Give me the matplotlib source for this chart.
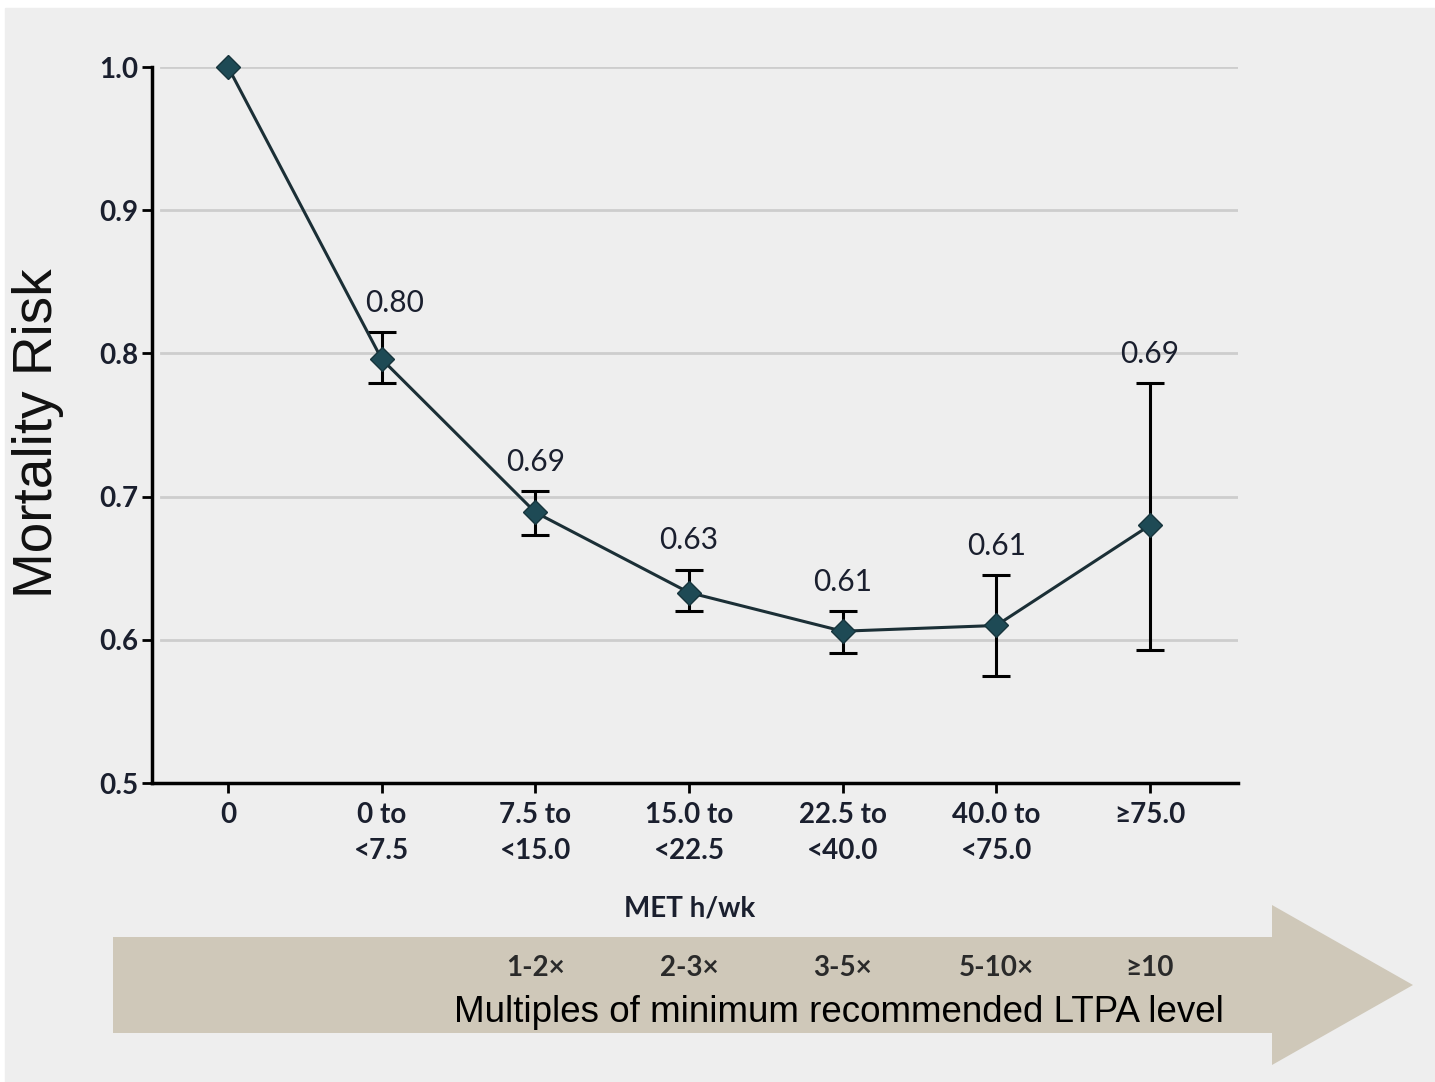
import matplotlib.pyplot as plt
from matplotlib.patches import Polygon, Rectangle
from matplotlib.transforms import blended_transform_factory

# data
categories = ["0", "0 to\n<7.5", "7.5 to\n<15.0", "15.0 to\n<22.5",
              "22.5 to\n<40.0", "40.0 to\n<75.0", "\u226575.0"]
risk = [1.0, 0.796, 0.689, 0.633, 0.606, 0.610, 0.680]
lower = [1.0, 0.779, 0.673, 0.620, 0.591, 0.575, 0.593]
upper = [1.0, 0.815, 0.704, 0.649, 0.620, 0.645, 0.779]
value_labels = ["", "0.80", "0.69", "0.63", "0.61", "0.61", "0.69"]
multiples = ["", "", "1-2\u00d7", "2-3\u00d7", "3-5\u00d7", "5-10\u00d7", "\u226510"]
yticks = [0.5, 0.6, 0.7, 0.8, 0.9, 1.0]

W, H = 1435, 1082
bg = "#eeeeee"
fam = ["Lato", "DejaVu Sans"]


def px(x, y):
    return x / W, 1 - y / H


fig = plt.figure(figsize=(W / 100, H / 100), dpi=100)
fig.patch.set_facecolor("white")
fig.patches.append(Rectangle(px(5, 1082), 1 - 5 / W, 1 - 8 / H,
                             transform=fig.transFigure, color=bg, zorder=-2))

# beige arrow at the bottom
arrow_pts = [px(113, 937), px(1272, 937), px(1272, 905), px(1413, 985),
             px(1272, 1065), px(1272, 1033), px(113, 1033)]
fig.patches.append(Polygon(arrow_pts, closed=True, transform=fig.transFigure,
                           facecolor="#cfc8b9", edgecolor="none", zorder=-1))

l, b = px(152, 783)
r, t = px(1238, 67)
ax = fig.add_axes([l, b, r - l, t - b])
ax.set_facecolor(bg)

x = list(range(len(categories)))
yerr = [[r_ - lo for r_, lo in zip(risk, lower)],
        [up - r_ for r_, up in zip(risk, upper)]]

ax.plot(x, risk, color="#1b2f36", lw=2.2, zorder=3, clip_on=False)
ax.errorbar(x[1:], risk[1:], yerr=[yerr[0][1:], yerr[1][1:]], fmt="none",
            ecolor="black", elinewidth=2.2, capsize=10, capthick=2.2, zorder=2)
ax.plot(x, risk, ls="none", marker="D", ms=12, mfc="#1e4a55", mec="#16343c",
        mew=1, zorder=4, clip_on=False)

for i, lab in enumerate(value_labels):
    if not lab:
        continue
    dx = 9 if i == 1 else 0
    ax.annotate(lab, (x[i], upper[i]), xytext=(dx, 21), textcoords="offset points",
                ha="center", va="center", fontsize=21.5, color="#1a1f2e", family=fam)

ax.set_xlim(-0.495, 6.573)
ax.set_ylim(0.5, 1.0)
ax.set_yticks(yticks)
ax.set_yticklabels([f"{v:.1f}" for v in yticks])
ax.set_xticks(x)
ax.set_xticklabels(categories, linespacing=1.45)
ax.tick_params(axis="both", direction="out", length=7, width=2, colors="black",
               labelsize=20)
ax.tick_params(axis="x", pad=7)
ax.tick_params(axis="y", pad=3)
for lbl in ax.get_xticklabels() + ax.get_yticklabels():
    lbl.set_family(fam)
    lbl.set_fontweight("bold")
    lbl.set_color("#1a1f2e")

for v in yticks[1:]:
    ax.axhline(v, color="#cdcdcd", lw=2, zorder=1, xmin=0.008)

for s in ["top", "right"]:
    ax.spines[s].set_visible(False)
for s in ["left", "bottom"]:
    ax.spines[s].set_linewidth(2.5)

ax.set_ylabel("Mortality Risk", family=["Liberation Sans", "DejaVu Sans"],
              fontsize=39.5, color="#111111")
ax.yaxis.set_label_coords(-0.081, 0.489)

fig.text(*px(690, 908), "MET h/wk", ha="center", va="center", fontsize=20,
         fontweight="bold", family=fam, color="#1a1f2e")

trans = blended_transform_factory(ax.transData, fig.transFigure)
for i, lab in enumerate(multiples):
    if lab:
        ax.text(x[i], 1 - 968 / H, lab, transform=trans, ha="center", va="center",
                fontsize=20, fontweight="bold", family=fam, color="#2a2a2a")

fig.text(*px(839, 1012), "Multiples of minimum recommended LTPA level",
         ha="center", va="center", fontsize=26.5,
         family=["Liberation Sans", "DejaVu Sans"], color="black")

fig.savefig("out.png", dpi=100, facecolor=fig.get_facecolor())
